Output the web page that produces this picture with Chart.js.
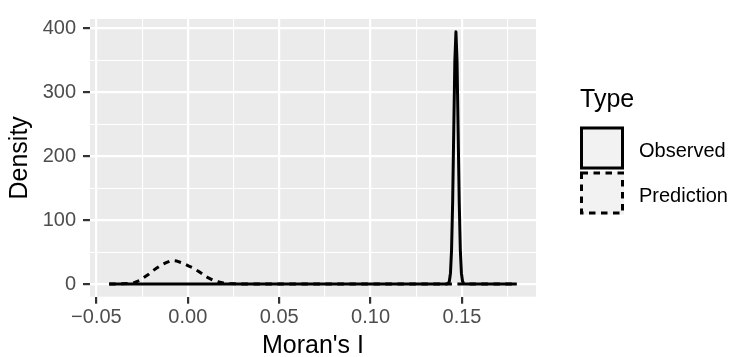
<!DOCTYPE html>
<html>
<head>
<meta charset="utf-8">
<script src="https://cdn.jsdelivr.net/npm/chart.js@4.4.1/dist/chart.umd.min.js"></script>
<style>
  html, body { margin: 0; padding: 0; background: #ffffff; }
  canvas { display: block; }
</style>
</head>
<body>
<canvas id="densityChart" width="735" height="357"></canvas>
<script>
// ── Data ───────────────────────────────────────────────────
var obsX  = [-0.0430, 0.1415, 0.1425, 0.1431, 0.1437, 0.1443, 0.1449, 0.1455, 0.1461, 0.1467,
             0.1473, 0.1479, 0.1485, 0.1491, 0.1497, 0.1503, 0.1509, 0.1517, 0.1800];
var obsY  = [0, 0, 1, 4.4, 17, 53, 128, 240, 349, 395,
             349, 240, 128, 53, 17, 4.4, 1, 0, 0];

var predX = [-0.0430, -0.0360, -0.0320, -0.0290, -0.0265, -0.0244, -0.0220, -0.0198, -0.0170, -0.0143,
             -0.0115, -0.0089, -0.0060, -0.0025, 0.0003, 0.0030, 0.0058, 0.0084, 0.0110, 0.0139,
             0.0165, 0.0194, 0.0230, 0.0270, 0.0320, 0.1800];
var predY = [0, 0.3, 1, 2.5, 5.5, 9.5, 14, 19.5, 25, 30,
             34, 37, 36, 32.5, 28.5, 25, 20, 15, 10, 6,
             3.5, 1.8, 0.8, 0.3, 0, 0];

var seriesNames = ['Observed', 'Prediction'];
var legendTitle = 'Type';

var xTickValues = [-0.05, 0, 0.05, 0.10, 0.15];
var xTickLabels = ['\u22120.05', '0.00', '0.05', '0.10', '0.15'];
var xMinorValues = [-0.025, 0.025, 0.075, 0.125, 0.175];

var yTickValues = [0, 100, 200, 300, 400];
var yTickLabels = ['0', '100', '200', '300', '400'];
var yMinorValues = [50, 150, 250, 350];

// ── Styling helpers ────────────────────────────────────────
var fontFamily = "'Liberation Sans', Arial, Helvetica, sans-serif";
var panelGrey = '#EBEBEB';
var tickGrey = '#4D4D4D';

function toPoints(xs, ys) {
    return xs.map(function (x, i) { return { x: x, y: ys[i] }; });
}

function findIndex(list, v) {
    for (var i = 0; i < list.length; i++) {
        if (Math.abs(list[i] - v) < 1e-9) return i;
    }
    return -1;
}

// ggplot-like axis: major + minor white grid, dark ticks only on majors
function gridScale(majors, labels, minors, labelPad, extra) {
    var all = majors.concat(minors).sort(function (a, b) { return a - b; });
    function isMajor(ctx) { return ctx.tick && findIndex(majors, ctx.tick.value) >= 0; }
    return Object.assign({
        type: 'linear',
        afterBuildTicks: function (scale) {
            scale.ticks = all.map(function (v) { return { value: v }; });
        },
        ticks: {
            autoSkip: false,
            maxRotation: 0,
            padding: labelPad,
            color: tickGrey,
            font: { size: 20, family: fontFamily },
            callback: function (val) {
                var i = findIndex(majors, val);
                return i >= 0 ? labels[i] : '';
            }
        },
        grid: {
            color: '#FFFFFF',
            lineWidth: function (ctx) { return isMajor(ctx) ? 2.2 : 1.1; },
            tickColor: function (ctx) { return isMajor(ctx) ? '#333333' : 'rgba(0,0,0,0)'; },
            tickWidth: 2.2,
            tickLength: 7,
            drawTicks: true
        },
        border: { display: false }
    }, extra);
}

// ── Panel background + legend ──────────────────────────────
var panelBackground = {
    id: 'panelBackground',
    beforeDraw: function (chart) {
        var a = chart.chartArea, c = chart.ctx;
        c.save();
        c.fillStyle = panelGrey;
        c.fillRect(a.left, a.top, a.right - a.left, a.bottom - a.top);
        c.restore();
    }
};

var ggLegend = {
    id: 'ggLegend',
    afterDraw: function (chart) {
        var c = chart.ctx;
        c.save();
        c.textBaseline = 'alphabetic';
        c.textAlign = 'left';
        c.fillStyle = '#000000';
        c.font = '25px ' + fontFamily;
        c.fillText(legendTitle, 580, 107);

        chart.data.datasets.forEach(function (ds, i) {
            var top = 126.5 + i * 45;
            c.fillStyle = '#F2F2F2';
            c.fillRect(580, top, 44, 43);
            c.setLineDash(ds.borderDash || []);
            c.lineWidth = 3;
            c.strokeStyle = '#000000';
            c.strokeRect(581.5, top + 1.5, 41, 40);
            c.setLineDash([]);
            c.fillStyle = '#000000';
            c.font = '20px ' + fontFamily;
            c.fillText(ds.label, 639, top + 30);
        });
        c.restore();
    }
};

// ── Chart ──────────────────────────────────────────────────
new Chart(document.getElementById('densityChart'), {
    type: 'scatter',
    data: {
        datasets: [
            {
                label: seriesNames[0],
                data: toPoints(obsX, obsY),
                showLine: true,
                borderColor: '#000000',
                borderWidth: 3,
                borderJoinStyle: 'round',
                pointRadius: 0,
                fill: false,
                order: 1
            },
            {
                label: seriesNames[1],
                data: toPoints(predX, predY),
                showLine: true,
                borderColor: '#000000',
                borderWidth: 3,
                borderDash: [6.5, 5.5],
                borderJoinStyle: 'round',
                pointRadius: 0,
                fill: false,
                order: 2
            }
        ]
    },
    options: {
        responsive: false,
        devicePixelRatio: 1,
        animation: false,
        layout: { padding: { top: 7, right: 199, bottom: 0, left: 0 } },
        plugins: {
            legend: { display: false },
            tooltip: { enabled: false }
        },
        scales: {
            x: gridScale(xTickValues, xTickLabels, xMinorValues, 2, {
                min: -0.0535,
                max: 0.1905,
                afterFit: function (scale) { scale.height = 60.3; },
                title: {
                    display: true,
                    text: "Moran's I",
                    color: '#000000',
                    font: { size: 25, family: fontFamily },
                    padding: { top: 0, bottom: -4 }
                }
            }),
            y: gridScale(yTickValues, yTickLabels, yMinorValues, 7, {
                min: -19.8,
                max: 415,
                afterFit: function (scale) { scale.width = 90; },
                title: {
                    display: true,
                    text: 'Density',
                    color: '#000000',
                    font: { size: 25, family: fontFamily },
                    padding: { top: 5, bottom: 0 }
                }
            })
        }
    },
    plugins: [panelBackground, ggLegend]
});
</script>
</body>
</html>
